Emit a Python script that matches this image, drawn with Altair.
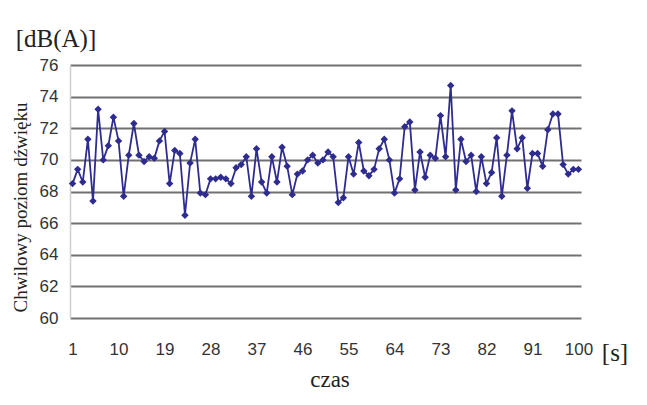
import altair as alt
import pandas as pd

# time index [s]
czas = list(range(1, 101))
# instantaneous sound level [dB(A)]
poziom = [
    68.5, 69.4, 68.6, 71.3, 67.4, 73.2, 70.0, 70.9, 72.7, 71.2,
    67.7, 70.3, 72.3, 70.3, 69.9, 70.2, 70.1, 71.2, 71.8, 68.5,
    70.6, 70.4, 66.5, 69.8, 71.3, 67.9, 67.8, 68.8, 68.8, 68.9,
    68.8, 68.5, 69.5, 69.7, 70.2, 67.7, 70.7, 68.6, 67.9, 70.2,
    68.6, 70.8, 69.6, 67.8, 69.1, 69.3, 70.0, 70.3, 69.8, 70.0,
    70.5, 70.2, 67.3, 67.6, 70.2, 69.1, 71.1, 69.3, 69.0, 69.4,
    70.7, 71.3, 70.0, 67.9, 68.8, 72.1, 72.4, 68.1, 70.5, 68.9,
    70.3, 70.1, 72.8, 70.2, 74.7, 68.1, 71.3, 69.9, 70.3, 68.0,
    70.2, 68.5, 69.2, 71.4, 67.7, 70.3, 73.1, 70.7, 71.4, 68.2,
    70.4, 70.4, 69.6, 71.9, 72.9, 72.9, 69.7, 69.1, 69.4, 69.4,
]
x_ticks = [1, 10, 19, 28, 37, 46, 55, 64, 73, 82, 91, 100]
y_ticks = [60, 62, 64, 66, 68, 70, 72, 74, 76]

df = pd.DataFrame({"czas": czas, "poziom": poziom})

LINE = "#2f2c8f"
SANS = "Liberation Sans Narrow, Liberation Sans, Arial"
SERIF = "Liberation Serif, Times New Roman, serif"

x_enc = alt.X(
    "czas:Q",
    scale=alt.Scale(domain=[0.5, 100.5], nice=False, zero=False),
    axis=alt.Axis(
        values=x_ticks, title=None, grid=False, ticks=False, domain=False,
        labelFont=SANS, labelFontSize=17, labelColor="#333333",
        labelPadding=23, labelFlush=False,
    ),
)
y_enc = alt.Y(
    "poziom:Q",
    scale=alt.Scale(domain=[60, 76], nice=False, zero=False),
    axis=alt.Axis(
        values=y_ticks, title="Chwilowy poziom dźwięku",
        titleFont=SERIF, titleFontSize=19, titleFontWeight="normal",
        titleColor="#222222", titleAngle=-90, titleX=-50, titleY=142,
        titleAlign="center", titleBaseline="middle",
        grid=True, gridColor="#707070", gridWidth=2,
        ticks=False, domain=True, domainColor="#cfcfcf", domainWidth=1.5,
        labelFont=SANS, labelFontSize=17, labelColor="#333333",
        labelPadding=12,
    ),
)

line = alt.Chart(df).mark_line(color=LINE, strokeWidth=1.8).encode(x=x_enc, y=y_enc)
pts = alt.Chart(df).mark_point(
    shape="diamond", filled=True, color=LINE, size=55, opacity=1
).encode(x=x_enc, y=y_enc)

one = pd.DataFrame({"a": [0]})
unit_y = alt.Chart(one).mark_text(
    font=SERIF, fontSize=25, color="#222222", align="center", baseline="middle"
).encode(x=alt.value(-14), y=alt.value(-26), text=alt.value("[dB(A)]"))
unit_x = alt.Chart(one).mark_text(
    font=SERIF, fontSize=25, color="#222222", align="center", baseline="middle"
).encode(x=alt.value(545), y=alt.value(288), text=alt.value("[s]"))
xtitle = alt.Chart(one).mark_text(
    font=SERIF, fontSize=23, color="#222222", align="center", baseline="middle"
).encode(x=alt.value(260), y=alt.value(315), text=alt.value("czas"))

chart = alt.layer(line, pts, unit_y, unit_x, xtitle).properties(
    width=511, height=253,
    autosize=alt.AutoSizeParams(type="none"),
    padding={"left": 62, "top": 57, "right": 50, "bottom": 85},
    background="white",
).configure_view(stroke=None)

chart.save("out.html", embed_options={"renderer": "svg", "actions": False})
